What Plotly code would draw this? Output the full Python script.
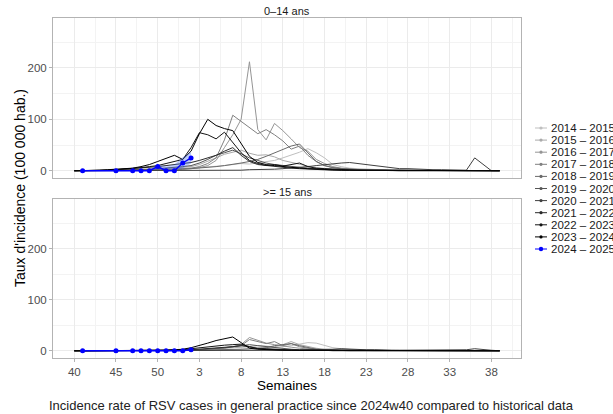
import plotly.graph_objects as go

# ---------------- data ----------------
weeks = [40, 41, 42, 43, 44, 45, 46, 47, 48, 49, 50, 51, 52,
         1, 2, 3, 4, 5, 6, 7, 8, 9, 10, 11, 12, 13,
         14, 15, 16, 17, 18, 19, 20, 21, 22, 23, 24, 25, 26,
         27, 28, 29, 30, 31, 32, 33, 34, 35, 36, 37, 38, 39]
tick_weeks = [40, 45, 50, 3, 8, 13, 18, 23, 28, 33, 38]

seasons = ["2014 – 2015", "2015 – 2016", "2016 – 2017", "2017 – 2018", "2018 – 2019",
           "2019 – 2020", "2020 – 2021", "2021 – 2022", "2022 – 2023", "2023 – 2024"]
current_season = "2024 – 2025"
season_colors = ["#bfbfbf", "#aaaaaa", "#959595", "#808080", "#6a6a6a",
                 "#555555", "#404040", "#2b2b2b", "#151515", "#000000"]
current_color = "#0000ff"

panels = ["0–14 ans", ">= 15 ans"]

top_2014 = [0,0,0,0,0,1,1,1,2,2,3,3,4, 4,5,6,7,9,10,12,14,13,15,18,20,25,
            30,36,43,35,25,12,8,5,4,3,2,2,1, 1,1,1,0,0,0,0,0,0,0,0,0,0]
top_2015 = [0,0,0,0,1,1,1,2,2,3,3,4,5, 6,8,12,18,25,32,36,40,34,30,31,27,20,
            16,12,9,6,4,3,2,2,1,1,1,1,0, 0,0,0,0,0,0,0,0,0,0,0,0,0]
top_2016 = [0,0,0,0,0,1,1,1,2,2,2,3,3, 3,4,6,10,20,45,70,100,212,80,60,92,78,
            62,45,38,22,14,8,5,3,2,1,1,1,0, 0,0,0,0,0,0,0,0,0,0,0,0,0]
top_2017 = [0,0,0,0,0,0,1,1,1,2,2,3,3, 4,5,8,14,25,60,108,96,85,72,80,70,58,
            42,48,30,18,10,6,4,3,2,1,1,1,0, 0,0,0,0,0,0,0,0,0,0,0,0,0]
top_2018 = [0,0,0,0,0,0,1,1,1,1,2,2,3, 3,4,5,6,8,10,12,15,18,22,28,35,42,
            48,52,35,18,10,6,4,3,2,1,1,1,0, 0,0,0,0,0,0,0,0,0,0,0,0,0]
top_2019 = [0,0,0,0,1,1,2,2,3,3,4,5,6, 8,10,15,22,30,35,40,33,25,20,15,12,10,
            8,6,5,4,3,2,2,1,1,1,1,0,0, 0,0,0,0,0,0,0,0,0,0,0,0,0]
top_2020 = [0,0,0,0,0,0,0,0,0,0,0,0,0, 0,0,0,0,0,1,1,1,2,2,3,3,4,
            5,6,8,10,12,14,15,16,14,12,9,7,5, 4,4,3,3,2,2,2,2,1,25,13,0,0]
top_2021 = [0,0,0,1,1,2,3,4,5,6,8,10,12, 14,16,20,25,30,38,45,30,18,12,10,8,6,
            5,4,3,2,2,1,1,1,1,0,0,0,0, 0,0,0,0,0,0,0,0,0,0,0,0,0]
top_2022 = [0,0,0,0,1,2,3,4,6,8,10,14,18, 22,45,74,70,62,75,55,35,20,14,10,12,9,
            12,15,8,5,4,3,2,2,1,1,1,0,0, 0,0,0,0,0,0,0,0,0,0,0,0,0]
top_2023 = [0,0,0,1,2,3,4,5,8,12,18,24,30, 22,38,72,100,88,82,78,52,28,16,12,10,8,
            6,5,4,3,2,2,1,1,1,1,0,0,0, 0,0,0,0,0,0,0,0,0,0,0,0,0]

bot_2014 = [0,0,0,0,0,0,0,0,1,1,1,1,1, 1,1,1,2,2,2,3,3,3,4,5,6,8,
            10,13,16,15,10,6,4,2,1,1,1,0,0, 0,0,0,0,0,0,0,0,0,0,0,0,0]
bot_2015 = [0,0,0,0,0,0,0,1,1,1,1,1,1, 1,2,2,3,4,5,6,6,8,10,9,8,12,
            18,12,8,5,3,2,1,1,1,0,0,0,0, 0,0,0,0,0,0,0,0,0,0,0,0,0]
bot_2016 = [0,0,0,0,0,0,0,0,0,1,1,1,1, 1,1,2,3,4,6,8,12,26,20,15,12,9,
            7,5,3,2,1,1,1,0,0,0,0,0,0, 0,0,0,0,0,0,0,0,0,0,0,0,0]
bot_2017 = [0,0,0,0,0,0,0,0,0,1,1,1,1, 1,1,2,3,4,5,8,10,22,18,14,18,10,
            14,8,5,3,2,1,1,0,0,0,0,0,0, 0,0,0,0,0,0,0,0,0,0,0,0,0]
bot_2018 = [0,0,0,0,0,0,0,0,0,1,1,1,1, 0,1,1,1,2,2,3,3,4,5,6,10,12,
            14,10,6,3,2,1,1,0,0,0,0,0,0, 0,0,0,0,0,0,0,0,0,0,0,0,0]
bot_2019 = [0,0,0,0,0,0,0,0,1,1,1,1,1, 1,1,2,3,4,6,8,10,12,10,8,6,4,
            3,2,2,1,1,0,0,0,0,0,0,0,0, 0,0,0,0,0,0,0,0,0,0,0,0,0]
bot_2020 = [0,0,0,0,0,0,0,0,0,0,0,0,0, 0,0,0,0,0,0,0,0,0,1,1,1,1,
            1,1,2,2,3,3,4,3,3,2,2,1,1, 1,1,1,1,1,1,1,1,2,4,2,1,0]
bot_2021 = [0,0,0,0,0,0,1,1,1,1,1,1,1, 1,2,3,4,5,7,8,10,7,5,4,3,2,
            2,1,1,1,0,0,0,0,0,0,0,0,0, 0,0,0,0,0,0,0,0,0,0,0,0,0]
bot_2022 = [0,0,0,0,0,0,0,1,1,1,1,1,2, 2,4,6,8,10,11,12,13,8,4,3,2,2,
            1,1,1,0,0,0,0,0,0,0,0,0,0, 0,0,0,0,0,0,0,0,0,0,0,0,0]
bot_2023 = [0,0,0,0,0,0,0,0,1,1,1,1,2, 3,6,10,15,20,24,27,16,5,3,2,2,1,
            1,1,1,0,0,0,0,0,0,0,0,0,0, 0,0,0,0,0,0,0,0,0,0,0,0,0]

top_series = [top_2014, top_2015, top_2016, top_2017, top_2018,
              top_2019, top_2020, top_2021, top_2022, top_2023]
bot_series = [bot_2014, bot_2015, bot_2016, bot_2017, bot_2018,
              bot_2019, bot_2020, bot_2021, bot_2022, bot_2023]

# current season (2024-2025)
cur_weeks = [41, 45, 47, 48, 49, 50, 51, 52, 1, 2]
cur_top = [0, 0, 0, 0, 0, 8, 0, 0, 15, 25]
cur_bot = [0, 0, 0, 0, 0, 0, 0, 0, 0, 2]
rib_weeks = [49, 50, 51, 52, 1, 2]
rib_top_low = [0, 3, 0, 0, 5, 14]
rib_top_high = [2, 12, 8, 12, 26, 36]

# ---------------- geometry ----------------
W, H = 613, 414
def px(x):
    return x / W
def py(y):
    return 1 - y / H

pos = {w: i for i, w in enumerate(weeks)}
x_all = [pos[w] for w in weeks]
x_cur = [pos[w] for w in cur_weeks]
x_rib = [pos[w] for w in rib_weeks]
tickvals = [pos[w] for w in tick_weeks]
minor_x = [v + 2.5 for v in tickvals[:-1]] + [tickvals[0] - 2.5, tickvals[-1] + 2.5]

FONT = "Liberation Sans, Arial, Helvetica, sans-serif"
GRID = "#ebebeb"
BORDER = "#b3b3b3"

fig = go.Figure()

for panel_i, (series, xa, ya) in enumerate([(top_series, "x", "y"), (bot_series, "x2", "y2")]):
    for s_i, vals in enumerate(series):
        fig.add_trace(go.Scatter(
            x=x_all, y=vals, mode="lines", xaxis=xa, yaxis=ya,
            line=dict(color=season_colors[s_i], width=1),
            name=seasons[s_i], showlegend=False, hoverinfo="skip"))

# ribbon (top panel)
fig.add_trace(go.Scatter(x=x_rib, y=rib_top_low, mode="lines", line=dict(width=0),
                         xaxis="x", yaxis="y", showlegend=False, hoverinfo="skip"))
fig.add_trace(go.Scatter(x=x_rib, y=rib_top_high, mode="lines", line=dict(width=0),
                         fill="tonexty", fillcolor="rgba(70,110,240,0.35)",
                         xaxis="x", yaxis="y", showlegend=False, hoverinfo="skip"))

for vals, xa, ya in [(cur_top, "x", "y"), (cur_bot, "x2", "y2")]:
    fig.add_trace(go.Scatter(
        x=x_cur, y=vals, mode="lines+markers", xaxis=xa, yaxis=ya,
        line=dict(color=current_color, width=1.4),
        marker=dict(color=current_color, size=5),
        name=current_season, showlegend=False))

x_dom = [px(53), px(521)]
yr = [-14.15, 297.2]
common_x = dict(range=[-2.55, 53.55], tickvals=tickvals, showgrid=True, gridcolor=GRID,
                gridwidth=1, zeroline=False, showline=True, mirror=True, linecolor=BORDER,
                linewidth=1, minor=dict(tickvals=minor_x, showgrid=True, gridcolor="#f3f3f3",
                                       gridwidth=0.6, ticks=""))
common_y = dict(range=yr, tickvals=[0, 100, 200], showgrid=True, gridcolor=GRID, gridwidth=1,
                zeroline=False, showline=True, mirror=True, linecolor=BORDER, linewidth=1,
                ticks="outside", ticklen=3, tickcolor=BORDER,
                tickfont=dict(size=11.5, color="#4d4d4d", family=FONT),
                minor=dict(tickvals=[50, 150, 250], showgrid=True, gridcolor="#f3f3f3",
                           gridwidth=0.6, ticks=""))

fig.update_layout(
    width=W, height=H, margin=dict(l=0, r=0, t=0, b=0),
    paper_bgcolor="white", plot_bgcolor="white",
    showlegend=False,
    font=dict(family=FONT),
    xaxis=dict(domain=x_dom, anchor="y", showticklabels=False, ticks="", **common_x),
    yaxis=dict(domain=[py(178), py(18)], anchor="x", **common_y),
    xaxis2=dict(domain=x_dom, anchor="y2", ticktext=[str(w) for w in tick_weeks],
                ticks="outside", ticklen=3, tickcolor=BORDER,
                tickfont=dict(size=11.5, color="#4d4d4d", family=FONT), **common_x),
    yaxis2=dict(domain=[py(358), py(199)], anchor="x2", **common_y),
)

annotations = []
shapes = []
cx = px((53 + 521) / 2)

def label(text, x, y, size, color="black", angle=0, xanchor="center"):
    return dict(text=text, x=x, y=y, xref="paper", yref="paper", showarrow=False,
                xanchor=xanchor, yanchor="middle", textangle=angle,
                font=dict(size=size, color=color, family=FONT))

annotations.append(label(panels[0], cx, py(11), 11, "#1a1a1a"))
annotations.append(label(panels[1], cx, py(192), 11, "#1a1a1a"))
annotations.append(label("Taux d'incidence (100 000 hab.)", px(20), py(188), 14, angle=-90))
annotations.append(label("Semaines", cx, py(385), 13.5))
annotations.append(label("Incidence rate of RSV cases in general practice since 2024w40 compared to historical data",
                         px(311), py(405), 13, "#222222"))

# manual legend
legend_labels = seasons + [current_season]
legend_colors = season_colors + [current_color]
for i, (lab, col) in enumerate(zip(legend_labels, legend_colors)):
    yy = 128 + 12.1 * i
    shapes.append(dict(type="line", xref="paper", yref="paper", x0=px(535), x1=px(547),
                       y0=py(yy), y1=py(yy), line=dict(color=col, width=1)))
    r = 2.2 if lab == current_season else 1.6
    shapes.append(dict(type="circle", xref="paper", yref="paper", x0=px(541 - r), x1=px(541 + r),
                       y0=py(yy + r), y1=py(yy - r), fillcolor=col, line=dict(width=0)))
    annotations.append(label(lab, px(549), py(yy), 11.5, "#1a1a1a", xanchor="left"))

fig.update_layout(annotations=annotations, shapes=shapes)
fig.write_html("out.html")
